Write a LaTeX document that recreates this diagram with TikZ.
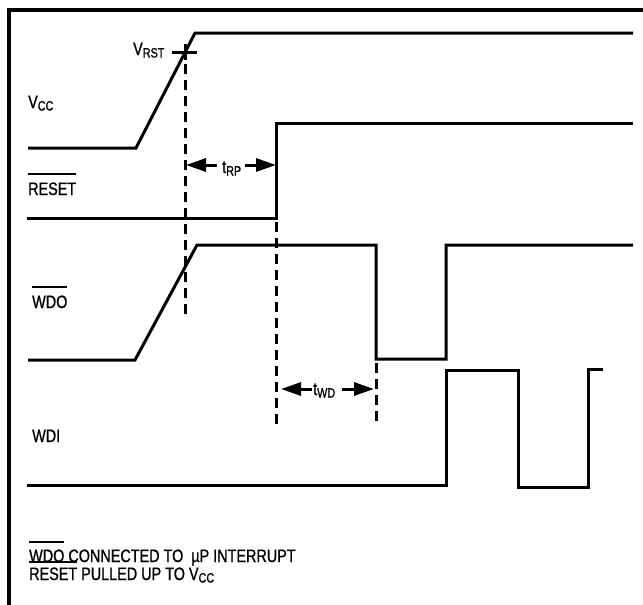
\documentclass[tikz,border=0pt]{standalone}
\usepackage{fontspec}
\setmainfont{Liberation Sans}[FakeStretch=0.8,FakeBold=1]
\usetikzlibrary{arrows.meta}
\newcommand\ovl[2][19pt]{\leavevmode\setbox0\hbox{#2}\rlap{\raisebox{#1}{\rule{\wd0}{1.6pt}}}\box0\relax}
\newcommand\sbt[1]{{\fontsize{13.5}{13.5}\selectfont\raisebox{-2.5pt}{#1}}}
\begin{document}
\begin{tikzpicture}[x=1pt,y=-1pt,
  wave/.style={line width=3pt,line join=miter},
  guide/.style={line width=3pt,dash pattern=on 10pt off 6pt},
  dim/.style={line width=3pt,-{Triangle[length=20pt,width=13pt]}},
  lbl/.style={inner sep=0pt,anchor=base west,font=\fontsize{18}{18}\selectfont}]
\useasboundingbox (0,0) rectangle (643,605);
\fill[white] (0,0) rectangle (643,605);
% frame
\draw[line width=3.5pt] (9,605) -- (9,10) -- (643,10);
% waveforms
\draw[wave] (28,148) -- (136,148) -- (195,33) -- (633,33);
\draw[wave] (27,218) -- (276,218) -- (276,123) -- (633,123);
\draw[wave] (28,360) -- (135,360) -- (197,245) -- (376,245) -- (376,359) -- (446,359) -- (446,245) -- (633,245);
\draw[wave] (27,485) -- (446,485) -- (446,370) -- (518,370) -- (518,487) -- (588,487) -- (588,369) -- (603,369);
% VRST cross
\draw[line width=3pt] (172,52) -- (197,52);
\draw[line width=3pt] (185,44) -- (185,60);
% guides
\coordinate (g1t) at (185,64); \coordinate (g1b) at (185,320);
\coordinate (g2t) at (276,222); \coordinate (g2b) at (276,426);
\coordinate (g3t) at (376,363); \coordinate (g3b) at (376,426);
\draw[guide] (g1t) -- (g1b);
\draw[guide] (g2t) -- (g2b);
\draw[guide] (g3t) -- (g3b);
% dimension arrows
\coordinate (rpL) at (186,165); \coordinate (rpR) at (276,165);
\coordinate (rpa) at (217,165); \coordinate (rpb) at (245,165);
\draw[dim] (rpa) -- (rpL);
\draw[dim] (rpb) -- (rpR);
\coordinate (wdL) at (281,389); \coordinate (wdR) at (374,389);
\coordinate (wda) at (312,389); \coordinate (wdb) at (342,389);
\draw[dim] (wda) -- (wdL);
\draw[dim] (wdb) -- (wdR);
% labels
\node[lbl] (lvrst) at (133,55) {V\sbt{RST}};
\node[lbl] (lvcc) at (28,108) {V\sbt{CC}};
\node[lbl] (lreset) at (28,195) {\ovl[20pt]{RESET}};
\node[lbl] (lwdo) at (32,308) {\ovl[20pt]{WDO}};
\node[lbl] (lwdi) at (32,442) {WDI};
\node[lbl] (ltrp) at (222,173) {t\sbt{RP}};
\node[lbl] (ltwd) at (313,395) {t\sbt{WD}};
\node[lbl] (note1) at (29,562) {\ovl{WDO} CONNECTED TO \ µP INTERRUPT};
\node[lbl] (note2) at (29,580) {\ovl[17pt]{RESET} PULLED UP TO V\sbt{CC}};
\end{tikzpicture}
\end{document}
